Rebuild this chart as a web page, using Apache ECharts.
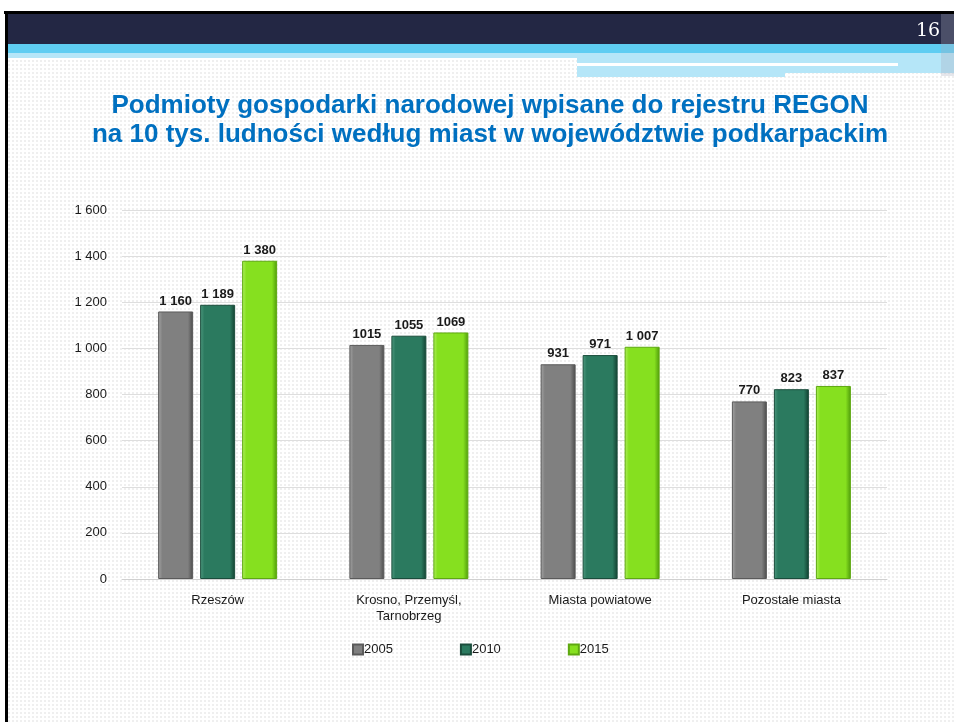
<!DOCTYPE html>
<html>
<head>
<meta charset="utf-8">
<script src="https://cdn.jsdelivr.net/npm/echarts@6/dist/echarts.min.js"></script>
<style>
  html, body { margin: 0; padding: 0; background: #fff; }
  #chart { width: 954px; height: 722px; }
</style>
</head>
<body>
<div id="chart"></div>
<script>
"use strict";
/** Categories on the x axis */
const categories = ["Rzeszów", "Krosno, Przemyśl,\nTarnobrzeg", "Miasta powiatowe", "Pozostałe miasta"];
/** Values per year */
const years = ["2005", "2010", "2015"];
const values2005 = [1160, 1015, 931, 770];
const values2010 = [1189, 1055, 971, 823];
const values2015 = [1380, 1069, 1007, 837];
/** Labels as printed on the slide (spacing is not consistent there) */
const labels2005 = ["1 160", "1015", "931", "770"];
const labels2010 = ["1 189", "1055", "971", "823"];
const labels2015 = ["1 380", "1069", "1 007", "837"];
/** Y axis ticks */
const yTicks = [0, 200, 400, 600, 800, 1000, 1200, 1400, 1600];

const FONT = "'Liberation Sans', Arial, sans-serif";

/* ============= dotted background pattern =================== */
function MakeDotPattern() {
    let c = document.createElement("canvas");
    c.width = 4;
    c.height = 4;
    let ctx = c.getContext("2d");
    ctx.fillStyle = "#ffffff";
    ctx.fillRect(0, 0, 4, 4);
    ctx.fillStyle = "#efefef";
    ctx.fillRect(0, 0, 2, 2);
    return c;
}

function BarColor(light, mid, dark) {
    return new echarts.graphic.LinearGradient(0, 0, 1, 0, [
        { offset: 0, color: light },
        { offset: 0.12, color: mid },
        { offset: 0.85, color: mid },
        { offset: 1, color: dark }
    ]);
}

function FormatTick(v) {
    // thousands separated by a space, like the slide
    return String(v).replace(/\B(?=(\d{3})+(?!\d))/g, " ");
}

function MakeSeries(name, values, labels, color, border) {
    return {
        name: name,
        type: "bar",
        data: values,
        barWidth: 35,
        barGap: "20%",
        itemStyle: { color: color, borderColor: border, borderWidth: 1 },
        label: {
            show: true,
            position: "top",
            distance: 4,
            fontFamily: FONT,
            fontWeight: "bold",
            fontSize: 13,
            color: "#1a1a1a",
            formatter: (p) => labels[p.dataIndex]
        }
    };
}

let chart = echarts.init(document.getElementById("chart"));
const pattern = { image: MakeDotPattern(), repeat: "repeat" };

chart.setOption({
    backgroundColor: "#ffffff",
    animation: false,
    title: {
        text: "Podmioty gospodarki narodowej wpisane do rejestru REGON\nna 10 tys. ludności według miast w województwie podkarpackim",
        left: 485,
        textAlign: "center",
        top: 86,
        textStyle: {
            fontFamily: FONT,
            fontWeight: "bold",
            fontSize: 26,
            lineHeight: 29,
            color: "#0070c0"
        }
    },
    graphic: [
        // page background pattern
        { type: "rect", z: -10, silent: true, shape: { x: 8, y: 58, width: 946, height: 664 }, style: { fill: pattern } },
        // black frame
        { type: "rect", shape: { x: 4, y: 11, width: 950, height: 3 }, style: { fill: "#000000" } },
        { type: "rect", shape: { x: 5, y: 11, width: 3, height: 711 }, style: { fill: "#000000" } },
        // navy header
        { type: "rect", shape: { x: 8, y: 14, width: 946, height: 30 }, style: { fill: "#232744" } },
        // light blue band
        { type: "rect", shape: { x: 8, y: 44, width: 946, height: 10 }, style: { fill: "#5fcdf2" } },
        { type: "rect", shape: { x: 8, y: 53, width: 569, height: 5 }, style: { fill: "#b5e6f8" } },
        { type: "rect", shape: { x: 577, y: 53, width: 377, height: 10 }, style: { fill: "#b5e6f8" } },
        { type: "rect", shape: { x: 577, y: 63, width: 321, height: 3 }, style: { fill: "#ffffff" } },
        { type: "rect", shape: { x: 898, y: 63, width: 56, height: 10 }, style: { fill: "#b5e6f8" } },
        { type: "rect", shape: { x: 577, y: 66, width: 208, height: 11 }, style: { fill: "#b5e6f8" } },
        { type: "rect", shape: { x: 785, y: 66, width: 113, height: 7 }, style: { fill: "#b5e6f8" } },
        // dotted strip at the right edge
        { type: "rect", shape: { x: 941, y: 14, width: 13, height: 62 }, style: { fill: "#a9adbd", opacity: 0.3 } },
        // page number
        {
            type: "text", left: 916, top: 22,
            style: { text: "16", fill: "#ffffff", font: "19px 'DejaVu Serif', 'Liberation Serif', serif" }
        }
    ],
    legend: {
        data: years,
        left: 347,
        top: 638,
        itemWidth: 10,
        itemHeight: 10,
        itemGap: 67,
        icon: "rect",
        textStyle: { fontFamily: FONT, fontSize: 13, color: "#1a1a1a", padding: [0, 0, 0, -4] }
    },
    grid: { left: 122, right: 67, top: 210, bottom: 143, containLabel: false },
    xAxis: {
        type: "category",
        data: categories,
        axisLine: { lineStyle: { color: "#d0d0d0" } },
        axisTick: { show: false },
        axisLabel: { fontFamily: FONT, fontSize: 13, color: "#1a1a1a", margin: 13, lineHeight: 16 }
    },
    yAxis: {
        type: "value",
        min: yTicks[0],
        max: yTicks[yTicks.length - 1],
        interval: yTicks[1] - yTicks[0],
        axisLine: { show: false },
        axisTick: { show: false },
        splitLine: { lineStyle: { color: "#dedede" } },
        axisLabel: { fontFamily: FONT, fontSize: 13, color: "#1a1a1a", margin: 15, formatter: FormatTick }
    },
    series: [
        MakeSeries(years[0], values2005, labels2005, BarColor("#a5a5a5", "#808080", "#4a4a4a"), "#5a5a5a"),
        MakeSeries(years[1], values2010, labels2010, BarColor("#4f9a80", "#2b7a5f", "#123f30"), "#1b4d3c"),
        MakeSeries(years[2], values2015, labels2015, BarColor("#b0f060", "#86e01f", "#4e9a0a"), "#5ea810")
    ]
});
</script>
</body>
</html>
